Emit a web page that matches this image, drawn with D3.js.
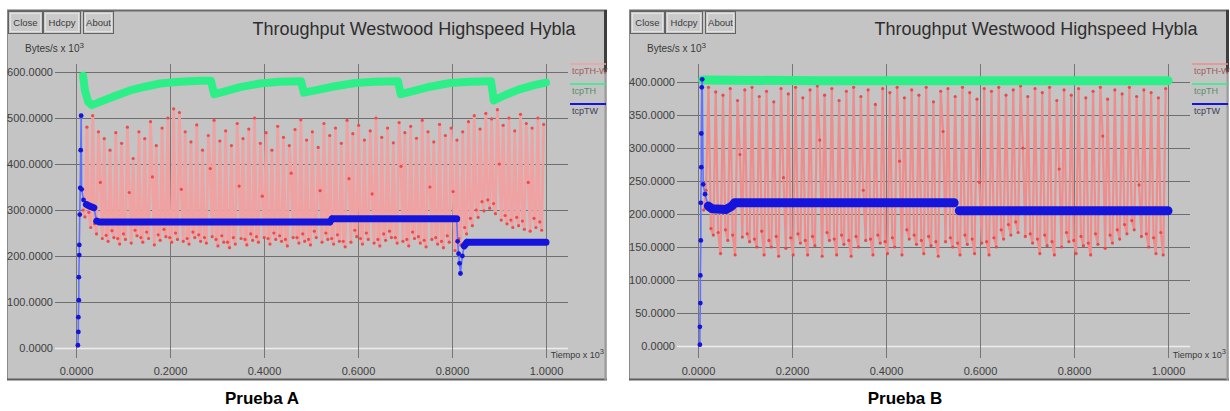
<!DOCTYPE html>
<html>
<head>
<meta charset="utf-8">
<script src="https://cdn.jsdelivr.net/npm/d3@7"></script>
<style>
  body { margin: 0; background: #fff; }
  svg { display: block; }
</style>
</head>
<body>
<svg id="chart" width="1230" height="411"></svg>
<script>
// ---------------- data ----------------
const chartTitle = "Throughput Westwood Highspeed Hybla";
const buttonLabels = ["Close", "Hdcpy", "About"];
const seriesNames = ["tcpTH-W", "tcpTH", "tcpTW"];
const captions = ["Prueba A", "Prueba B"];
const yUnit = "Bytes/s x 10";
const xUnit = "Tiempo x 10";
const xTicks = [0, 0.2, 0.4, 0.6, 0.8, 1.0];
const yTicksA = [0, 100, 200, 300, 400, 500, 600];
const yTicksB = [0, 50, 100, 150, 200, 250, 300, 350, 400];

// red flow: samples taken at a fixed interval between start and end time
const redStartA = 0.015, redEndA = 0.995;
const redA = [
  300,285,480, 295,262,505, 270,248,470, 360,238,455, 245,232,430, 255,240,468, 238,226,445, 248,236,480, 338,228,412, 256,244,470,
  240,230,455, 252,238,492, 372,224,440, 246,234,478, 258,242,500, 240,230,520, 250,236,512, 345,232,470, 238,226,448, 252,240,485,
  246,232,430, 240,228,462, 390,242,495, 236,222,450, 244,230,472, 230,218,440, 240,226,488, 352,238,455, 236,224,476, 248,234,500,
  242,230,445, 330,240,468, 238,226,430, 250,236,482, 244,232,458, 236,222,440, 380,240,475, 240,228,496, 248,232,452, 236,224,470,
  254,240,436, 342,230,488, 250,236,462, 238,226,478, 246,232,445, 232,220,495, 368,230,466, 256,242,484, 238,226,452, 250,236,472,
  335,228,500, 236,222,458, 248,234,478, 254,240,446, 240,228,490, 395,232,468, 236,222,482, 252,238,456, 242,228,495, 234,220,470,
  350,236,448, 240,226,486, 232,218,462, 244,230,478, 340,212,452, 238,224,470, 262,248,492, 282,266,505, 300,284,476, 318,298,510,
  322,304,498, 314,292,518, 400,278,484, 288,270,500, 278,262,472, 284,266,508, 276,258,488, 360,254,478, 282,262,500, 274,256,486
];
const redStartB = 0.012, redEndB = 0.995;
const redB = [
  206,236,392, 178,168,385, 172,140,380, 176,160,390, 168,138,372, 290,165,388, 170,158,392, 162,150,378, 174,138,386, 160,150,370,
  166,136,390, 255,148,382, 164,138,392, 170,156,376, 160,138,388, 166,152,394, 312,136,380, 172,160,390, 162,138,372, 168,154,386,
  160,136,392, 166,150,378, 236,160,388, 162,138,366, 168,156,390, 158,140,384, 164,150,392, 280,138,376, 176,162,388, 168,154,380,
  160,140,392, 166,152,370, 158,136,386, 325,158,390, 164,150,378, 156,138,392, 168,154,384, 162,140,374, 248,156,390, 158,138,386,
  164,150,392, 176,162,380, 184,168,388, 188,172,394, 300,166,378, 170,156,390, 162,140,384, 168,152,392, 158,138,372, 268,150,388,
  172,158,380, 160,140,390, 166,152,376, 156,138,386, 170,154,392, 318,148,374, 168,156,388, 176,162,382, 184,170,392, 190,176,378,
  244,166,388, 170,150,384, 164,140,376, 172,138,390
];

// green flow: [time, value]
const greenA = [
  [0.015,592],[0.019,560],[0.026,535],[0.034,528],[0.051,535],[0.083,548],[0.115,560],[0.147,568],[0.179,575],[0.221,579],
  [0.264,581],[0.287,581],[0.294,552],[0.317,558],[0.349,567],[0.391,575],[0.434,579],[0.479,580],[0.485,555],[0.509,560],
  [0.551,569],[0.594,576],[0.636,579],[0.685,580],[0.691,552],[0.715,558],[0.753,568],[0.796,576],[0.838,579],[0.883,580],
  [0.889,538],[0.913,550],[0.945,563],[0.977,572],[1.000,577]
];
const greenB = [[0.010,403],[0.250,402],[0.500,402],[0.750,402],[1.000,402]];

// blue flow: [time, value]
const blueA = [
  [0.004,6],[0.005,35],[0.005,67],[0.006,104],[0.006,154],[0.007,202],[0.007,224],[0.008,290],[0.009,348],[0.010,430],
  [0.011,505],[0.012,345],[0.016,322],[0.022,312],[0.030,308],[0.038,305],[0.044,276],[0.050,274],[0.540,274],[0.545,281],
  [0.810,281],[0.812,232],[0.814,205],[0.816,184],[0.818,162],[0.822,200],[0.826,222],[0.832,230],[1.000,230]
];
const blueB = [
  [0.004,2],[0.004,29],[0.005,65],[0.005,107],[0.006,160],[0.006,217],[0.007,271],[0.007,322],[0.008,392],[0.009,404],
  [0.011,245],[0.015,230],[0.022,212],[0.030,208],[0.060,207],[0.072,212],[0.078,217],[0.545,217],[0.556,205],[1.000,205]
];

// ---------------- drawing ----------------
const FONT = "'Liberation Sans', Arial, sans-serif";
const svg = d3.select("#chart");
const colors = { red: "#ee3434", green: "#2cef88", blue: "#1414dc", blueThin: "#6272ff" };

const panels = [
  { ox: 0,   yTicks: yTicksA, yMax: 600, yRange: [348, 72], red: redA, redStart: redStartA, redEnd: redEndA,
    green: greenA, blue: blueA, caption: captions[0], captionX: 262,
    greenW: 8, blueW: 7, redLine: "#f0a2a2", redW: 2.8 },
  { ox: 622, yTicks: yTicksB, yMax: 400, yRange: [346, 82], red: redB, redStart: redStartB, redEnd: redEndB,
    green: greenB, blue: blueB, caption: captions[1], captionX: 283,
    greenW: 9, blueW: 9, redLine: "#f08c8c", redW: 2.2 }
];

panels.forEach(p => {
  const ox = p.ox;
  const g = svg.append("g");

  // window frame
  g.append("rect").attr("x", 7 + ox).attr("y", 10).attr("width", 600).attr("height", 370).attr("fill", "#c4c4c4");
  g.append("line").attr("x1", 7 + ox).attr("x2", 607 + ox).attr("y1", 10.5).attr("y2", 10.5).attr("stroke", "#6a6a6a").attr("stroke-width", 2);
  g.append("line").attr("x1", 7.5 + ox).attr("x2", 7.5 + ox).attr("y1", 10).attr("y2", 380).attr("stroke", "#8a8a8a");
  g.append("line").attr("x1", 7 + ox).attr("x2", 607 + ox).attr("y1", 379.5).attr("y2", 379.5).attr("stroke", "#5e5e5e").attr("stroke-width", 2);
  g.append("line").attr("x1", 605.5 + ox).attr("x2", 605.5 + ox).attr("y1", 10).attr("y2", 380).attr("stroke", "#9a9a9a").attr("stroke-width", 2);
  g.append("line").attr("x1", 605.5 + ox).attr("x2", 605.5 + ox).attr("y1", 10).attr("y2", 72).attr("stroke", "#3e3e3e").attr("stroke-width", 3);

  // buttons
  const btnX = [8, 43, 83], btnW = [34, 37, 30];
  buttonLabels.forEach((b, i) => {
    g.append("rect").attr("x", btnX[i] + ox + 0.5).attr("y", 11.5).attr("width", btnW[i]).attr("height", 22)
      .attr("fill", "#cacaca").attr("stroke", "#626262");
    g.append("rect").attr("x", btnX[i] + ox + 2.5).attr("y", 13.5).attr("width", btnW[i] - 4).attr("height", 18)
      .attr("fill", "none").attr("stroke", "#e2e2e2");
    g.append("text").attr("x", btnX[i] + ox + btnW[i] / 2 + 0.5).attr("y", 26).attr("text-anchor", "middle")
      .attr("font-family", FONT).attr("font-size", 9.5).attr("fill", "#3a3a3a").text(b);
  });

  // title
  g.append("text").attr("x", 414 + ox).attr("y", 35).attr("text-anchor", "middle")
    .attr("font-family", FONT).attr("font-size", 18).attr("fill", "#2e2e2e").text(chartTitle);

  // unit labels
  const yu = g.append("text").attr("x", 25 + ox).attr("y", 52).attr("font-family", FONT).attr("font-size", 10).attr("fill", "#3a3a3a");
  yu.append("tspan").text(yUnit);
  yu.append("tspan").attr("dy", -4).attr("font-size", 8).text("3");
  const xu = g.append("text").attr("x", 604 + ox).attr("y", 358).attr("text-anchor", "end").attr("font-family", FONT).attr("font-size", 9).attr("fill", "#3a3a3a");
  xu.append("tspan").text(xUnit);
  xu.append("tspan").attr("dy", -4).attr("font-size", 7.5).text("3");

  const x = d3.scaleLinear().domain([0, 1]).range([76 + ox, 546 + ox]);
  const y = d3.scaleLinear().domain([0, p.yMax]).range(p.yRange);

  // y axis + horizontal grid
  const gy = g.append("g").attr("transform", `translate(${55 + ox},0)`)
    .call(d3.axisLeft(y).tickValues(p.yTicks).tickFormat(d3.format(".4f"))
      .tickSizeInner(-(568 - 55)).tickSizeOuter(0).tickPadding(2));
  gy.select(".domain").remove();
  gy.attr("font-family", FONT).attr("font-size", 11);
  gy.selectAll(".tick line").attr("stroke", "#6e6e6e");
  gy.selectAll(".tick").filter(d => d === 0).select("line").attr("stroke", "#ededed").attr("stroke-width", 1.5);
  gy.selectAll(".tick text").attr("fill", "#404040");

  // x axis + vertical grid
  const gx = g.append("g").attr("transform", "translate(0,358)")
    .call(d3.axisBottom(x).tickValues(xTicks).tickFormat(d3.format(".4f"))
      .tickSizeInner(-(358 - 64)).tickSizeOuter(0).tickPadding(9));
  gx.select(".domain").remove();
  gx.attr("font-family", FONT).attr("font-size", 11);
  gx.selectAll(".tick line").attr("stroke", "#767676");
  gx.selectAll(".tick text").attr("fill", "#404040");

  const line = d3.line().x(d => x(d[0])).y(d => y(d[1]));

  // red flow
  const n = p.red.length;
  const redPts = p.red.map((v, i) => [p.redStart + i * (p.redEnd - p.redStart) / (n - 1), v]);
  g.append("path").datum(redPts).attr("d", line).attr("fill", "none")
    .attr("stroke", p.redLine).attr("stroke-width", p.redW).attr("stroke-linejoin", "round");
  g.append("g").selectAll("circle").data(redPts).join("circle")
    .attr("cx", d => x(d[0])).attr("cy", d => y(d[1])).attr("r", 1.6).attr("fill", colors.red).attr("fill-opacity", 0.8);

  // green flow
  g.append("path").datum(p.green).attr("d", line).attr("fill", "none")
    .attr("stroke", colors.green).attr("stroke-width", p.greenW).attr("stroke-linecap", "round").attr("stroke-linejoin", "round");

  // blue flow: thin connecting line, dense steady stretches drawn as a thick band
  g.append("path").datum(p.blue).attr("d", line).attr("fill", "none")
    .attr("stroke", colors.blueThin).attr("stroke-width", 1.6);
  let band = "";
  for (let i = 1; i < p.blue.length; i++) {
    const a = p.blue[i - 1], b = p.blue[i];
    const dx = Math.abs(x(b[0]) - x(a[0])), dy = Math.abs(y(b[1]) - y(a[1]));
    if (dy <= 1.5 * dx) band += `M${x(a[0])},${y(a[1])}L${x(b[0])},${y(b[1])}`;
  }
  g.append("path").attr("d", band).attr("fill", "none").attr("stroke", colors.blue)
    .attr("stroke-width", p.blueW).attr("stroke-linecap", "round").attr("stroke-linejoin", "round");
  g.append("g").selectAll("circle").data(p.blue).join("circle")
    .attr("cx", d => x(d[0])).attr("cy", d => y(d[1])).attr("r", 2.4).attr("fill", colors.blue);

  // legend
  const legColors = [p.redLine, colors.green, colors.blue];
  const legText = ["#a05a5a", "#5c8a6c", "#3c3c5a"];
  seriesNames.forEach((s, i) => {
    g.append("line").attr("x1", 570 + ox).attr("x2", 606 + ox).attr("y1", 64 + 20 * i).attr("y2", 64 + 20 * i)
      .attr("stroke", legColors[i]).attr("stroke-width", i === 2 ? 2 : 1.5);
    g.append("text").attr("x", 572 + ox).attr("y", 74 + 20 * i).attr("font-family", FONT).attr("font-size", 9)
      .attr("fill", legText[i]).text(s);
  });

  // caption under the window
  svg.append("text").attr("x", p.captionX + ox).attr("y", 404).attr("text-anchor", "middle")
    .attr("font-family", FONT).attr("font-size", 17).attr("font-weight", "bold").attr("fill", "#000").text(p.caption);
});
</script>
</body>
</html>
